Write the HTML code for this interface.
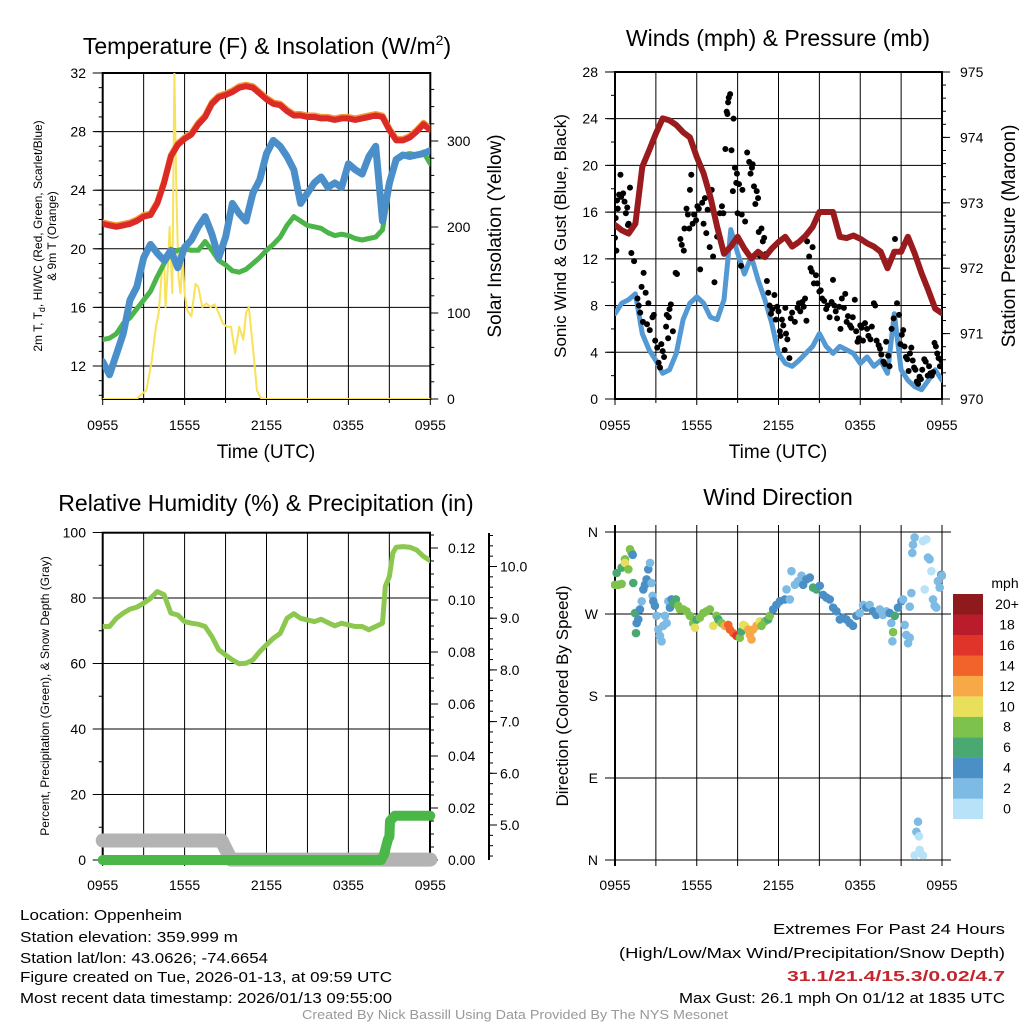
<!DOCTYPE html>
<html><head><meta charset="utf-8"><title>Mesonet Meteogram - Oppenheim</title>
<style>
html,body{margin:0;padding:0;background:#fff;}
svg{display:block;font-family:"Liberation Sans",sans-serif;}
</style></head>
<body>
<svg id="chart" width="1024" height="1024" viewBox="0 0 1024 1024" xmlns="http://www.w3.org/2000/svg">
<defs>
<clipPath id="c1"><rect x="102.7" y="73" width="327.6" height="326"/></clipPath>
<clipPath id="c2"><rect x="615" y="72" width="327" height="327"/></clipPath>
<clipPath id="c3"><rect x="102.7" y="532.7" width="327.3" height="327.3"/></clipPath>
<clipPath id="c4"><rect x="611" y="528" width="335" height="336"/></clipPath>
</defs>
<g id="g1"></g>
<g id="g2"></g>
<g id="g3"></g>
<g id="g4"></g>

<text x="267" y="54" font-size="23" text-anchor="middle">Temperature (F) &amp; Insolation (W/m<tspan font-size="14" dy="-9">2</tspan><tspan dy="9">)</tspan></text>
<text x="778" y="46" font-size="23" text-anchor="middle">Winds (mph) &amp; Pressure (mb)</text>
<text x="266" y="511" font-size="23" text-anchor="middle">Relative Humidity (%) &amp; Precipitation (in)</text>
<text x="778" y="505" font-size="23" text-anchor="middle">Wind Direction</text>

<text x="266" y="458" font-size="19" text-anchor="middle">Time (UTC)</text>
<text x="778" y="458" font-size="19" text-anchor="middle">Time (UTC)</text>

<text transform="translate(42,236) rotate(-90)" font-size="12" text-anchor="middle">2m T, T<tspan font-size="9" dy="3">d</tspan><tspan dy="-3">, HI/WC (Red, Green, Scarlet/Blue)</tspan></text>
<text transform="translate(56,236) rotate(-90)" font-size="12" text-anchor="middle">&amp; 9m T (Orange)</text>
<text transform="translate(501,236) rotate(-90)" font-size="19" text-anchor="middle">Solar Insolation (Yellow)</text>
<text transform="translate(566,236) rotate(-90)" font-size="17" text-anchor="middle">Sonic Wind &amp; Gust (Blue, Black)</text>
<text transform="translate(1015,236) rotate(-90)" font-size="19" text-anchor="middle">Station Pressure (Maroon)</text>
<text transform="translate(49,696) rotate(-90)" font-size="12" text-anchor="middle">Percent, Precipitation (Green), &amp; Snow Depth (Gray)</text>
<text transform="translate(568,696) rotate(-90)" font-size="17" text-anchor="middle">Direction (Colored By Speed)</text>

<g font-size="15">
<text x="20" y="920" textLength="162" lengthAdjust="spacingAndGlyphs">Location: Oppenheim</text>
<text x="20" y="942" textLength="218" lengthAdjust="spacingAndGlyphs">Station elevation: 359.999 m</text>
<text x="20" y="963" textLength="248" lengthAdjust="spacingAndGlyphs">Station lat/lon: 43.0626; -74.6654</text>
<text x="20" y="982" textLength="372" lengthAdjust="spacingAndGlyphs">Figure created on Tue, 2026-01-13, at 09:59 UTC</text>
<text x="20" y="1003" textLength="372" lengthAdjust="spacingAndGlyphs">Most recent data timestamp: 2026/01/13 09:55:00</text>
</g>
<g font-size="15" text-anchor="end">
<text x="1005" y="934" textLength="232" lengthAdjust="spacingAndGlyphs">Extremes For Past 24 Hours</text>
<text x="1005" y="958" textLength="386" lengthAdjust="spacingAndGlyphs">(High/Low/Max Wind/Precipitation/Snow Depth)</text>
<text x="1005" y="981" fill="#c4262e" font-weight="bold" textLength="218" lengthAdjust="spacingAndGlyphs">31.1/21.4/15.3/0.02/4.7</text>
<text x="1005" y="1003" textLength="326" lengthAdjust="spacingAndGlyphs">Max Gust: 26.1 mph On 01/12 at 1835 UTC</text>
</g>
<text x="515" y="1019" font-size="13" fill="#999" text-anchor="middle" textLength="426" lengthAdjust="spacingAndGlyphs">Created By Nick Bassill Using Data Provided By The NYS Mesonet</text>
</svg>
<script>
// ---------- DATA ----------
const timeLabels = ["0955","1555","2155","0355","0955"];
const halfHours = [0,0.5,1,1.5,2,2.5,3,3.5,4,4.5,5,5.5,6,6.5,7,7.5,8,8.5,9,9.5,10,10.5,11,11.5,12,12.5,13,13.5,14,14.5,15,15.5,16,16.5,17,17.5,18,18.5,19,19.5,20,20.5,21,21.5,22,22.5,23,23.5,24];
const tempF = [21.7,21.6,21.5,21.6,21.7,21.9,22.2,22.3,23.1,24.5,26.3,27.1,27.5,27.8,28.5,29.0,29.9,30.35,30.5,30.7,31.0,31.1,31.0,30.6,30.2,29.9,29.8,29.4,29.1,29.1,29.0,29.0,28.9,28.9,28.8,28.9,28.9,28.8,28.9,29.0,29.1,29.0,28.1,27.4,27.4,27.6,28.0,28.5,28.1];
const dewF = [13.8,13.9,14.2,14.9,15.3,15.9,16.5,17.1,18.1,19.0,19.7,19.9,20.0,19.9,19.9,20.5,19.9,19.2,18.9,18.5,18.4,18.6,19.0,19.4,19.9,20.3,20.8,21.6,22.2,21.9,21.6,21.5,21.4,21.1,20.9,21.0,20.9,20.7,20.6,20.7,20.8,21.3,24.2,26.1,26.4,26.5,26.4,26.6,25.8];
const windChillF = [12.3,11.4,12.8,14.2,16.5,17.4,19.4,20.3,19.7,19.2,19.9,18.7,20.1,20.6,21.5,22.2,21.0,19.4,20.8,23.1,22.4,21.9,23.8,24.7,26.5,27.4,27.0,26.3,25.4,23.1,23.8,24.5,24.9,24.2,24.5,24.2,25.8,25.4,25.1,26.3,27.0,21.9,24.5,26.1,26.4,26.3,26.4,26.5,26.7];
const insolTimes = [0,2.5,2.8,3.2,3.6,3.9,4.1,4.3,4.5,4.6,4.8,4.9,5.1,5.25,5.4,5.55,5.7,5.85,6,6.2,6.5,6.8,7.0,7.3,7.6,7.9,8.2,8.5,8.8,9.1,9.4,9.7,10,10.3,10.5,10.7,10.9,11.1,11.3,11.6,12,24];
const insolW = [0,0,5,10,45,84,100,142,165,107,160,200,123,379,239,142,123,165,123,103,96,134,130,107,111,107,110,100,88,84,84,53,84,69,100,107,76,45,10,1,0,0];
const pressureMb = [972.66,972.58,972.53,972.68,973.55,973.80,974.06,974.29,974.26,974.19,974.08,974.0,973.7,973.45,973.09,972.63,972.22,972.33,972.48,972.3,972.15,972.25,972.17,972.3,972.4,972.48,972.33,972.4,972.5,972.63,972.86,972.86,972.86,972.48,972.46,972.5,972.45,972.38,972.33,972.25,972.0,972.25,972.25,972.48,972.22,971.92,971.66,971.38,971.31];
const windMph = [7.3,8.2,8.5,9.0,5.6,4.2,3.3,2.2,2.5,3.9,6.8,8.2,8.75,8.2,7.0,6.8,8.5,14.5,12.5,10.7,12.2,10.2,8.5,6.5,3.9,3.05,2.8,3.3,3.9,4.5,5.6,4.5,3.9,4.5,4.2,3.9,3.05,3.6,2.8,3.3,2.2,7.3,2.5,1.6,1.05,0.8,1.6,2.5,1.6];
const gustTimes = [0,0.05,0.1,0.15,0.2,0.3,0.4,0.45,0.6,0.7,0.8,0.9,0.95,1.0,1.1,1.2,1.4,1.65,1.75,1.85,1.95,2.05,2.1,2.25,2.35,2.45,2.55,2.75,2.85,2.95,3.1,3.2,3.3,3.4,3.5,3.6,3.75,3.8,3.9,3.95,4.0,4.1,4.25,4.45,4.55,4.8,4.9,5.05,5.1,5.25,5.35,5.45,5.5,5.6,5.7,5.8,5.95,6.05,6.15,6.25,6.4,6.5,6.6,6.7,6.8,6.95,7.1,7.2,7.3,7.5,7.7,7.85,7.95,8.1,8.2,8.25,8.3,8.35,8.45,8.55,8.65,8.7,8.8,8.9,8.95,9.0,9.1,9.25,9.3,9.35,9.55,9.7,9.85,9.95,10.05,10.1,10.2,10.3,10.4,10.5,10.55,10.6,10.75,10.85,10.95,11.05,11.15,11.25,11.35,11.45,11.55,11.7,11.8,11.9,12.0,12.1,12.15,12.25,12.35,12.45,12.5,12.55,12.65,12.8,12.9,13.0,13.2,13.4,13.5,13.6,13.75,13.85,13.95,14.05,14.1,14.25,14.35,14.45,14.5,14.6,14.75,14.85,15.0,15.1,15.2,15.35,15.5,15.6,15.75,15.9,16.0,16.1,16.2,16.3,16.45,16.55,16.65,16.8,16.9,17.0,17.1,17.25,17.35,17.45,17.6,17.7,17.8,17.9,18.0,18.1,18.2,18.35,18.5,18.6,18.75,18.85,19.0,19.1,19.2,19.35,19.45,19.55,19.7,19.8,19.9,20.05,20.15,20.3,20.45,20.55,20.7,20.85,20.95,21.05,21.15,21.25,21.35,21.45,21.55,21.65,21.75,21.85,21.95,22.05,22.15,22.25,22.35,22.45,22.55,22.7,22.8,22.95,23.05,23.15,23.25,23.35,23.45,23.55,23.65,23.75,23.85,23.95];
const gustMph = [13.8,15.5,12.7,17,16.3,17.5,19.2,17.3,17.6,16.9,15.9,16.4,14.9,15,18.1,12.5,11.8,8.6,8,7.4,9.6,6.6,10.8,9.1,6.4,8.2,5.9,7,7.2,5,4.4,3.1,2.7,4.7,4.1,3.6,6.2,7.2,5.2,7,7.7,8.1,5.8,10.8,10.7,13.7,13.2,12.7,14.6,16.3,15.8,14.6,17.9,19.2,15.0,15.8,15.3,16.5,16.3,11.1,16.8,15.0,17.2,14.2,16.2,13.0,17.9,12.2,10.0,13.9,15.9,16.5,15.9,21.4,24.6,24.4,25.4,25.8,26.1,21.3,17.8,24.0,19.8,18.5,19.3,15.9,18.4,11.4,15.8,17.9,15.2,21.1,20.3,19.3,19.8,20.1,18.2,16.7,17.8,17.2,14.3,12.3,14.6,13.5,13.8,12.4,10.1,9.1,8.0,7.3,7.7,8.9,6.8,7.9,7.5,5.8,5.4,6.8,6.3,4.2,7.8,5.6,5.1,3.5,6.9,7.4,6.6,7.8,8.2,7.5,8.3,7.9,8.6,6.7,13.5,12.2,11.2,10.9,13.0,9.9,10.6,9.9,9.2,9.3,8.6,8.4,7.7,8.0,7.0,8.3,10.2,8.0,7.5,6.9,7.9,6.0,8.6,7.8,9.0,6.6,7.1,6.3,6.1,7.0,8.5,5.8,4.9,5.2,6.3,6.1,5.0,6.5,6.0,5.4,5.1,6.2,8.2,8.0,5.0,4.6,4.3,3.8,3.2,3.0,4.9,3.7,2.8,6.0,6.9,13.7,8.2,7.2,4.7,5.5,5.9,4.5,3.6,3.4,2.4,3.9,4.4,3.3,2.7,2.5,1.5,1.3,1.9,1.7,2.5,3.4,3.2,2.0,2.8,2.2,2.0,2.3,4.8,4.5,3.9,3.5,2.8,3.3];
const rhTimes = [0,0.5,1,1.5,2,2.5,3,3.5,4,4.5,5,5.5,6,6.5,7,7.5,8,8.5,9,9.5,10,10.5,11,11.5,12,12.5,13,13.5,14,14.5,15,15.5,16,16.5,17,17.5,18,18.5,19,19.5,20,20.5,20.7,21,21.25,21.5,22,22.5,23,23.5,24];
const rhPct = [71.3,71.3,73.8,75.4,76.6,77.2,78.4,79.9,82.0,81.0,75.4,74.8,72.8,72.3,72.0,71.3,68.2,64.2,62.6,61.1,59.9,60.1,61.1,63.6,65.7,67.7,69.2,73.8,75.2,73.8,73.3,72.8,73.5,72.5,71.5,72.3,71.8,71.3,71.3,70.3,71.3,72.3,83.5,86.6,93.7,95.5,95.7,95.5,94.7,92.7,91.4];
const precipTimes = [0,20.4,20.6,20.9,21.0,21.05,21.4,24];
const precipIn = [0,0,0.002,0.008,0.009,0.015,0.017,0.017];
const snowTimes = [0,8.7,9.4,24];
const snowIn = [4.7,4.7,4.33,4.33];
const dirTimes = [0,0.24,0.49,0.12,0.49,0.73,0.73,0.98,1.10,1.22,1.30,1.34,1.47,1.59,1.71,1.54,1.83,1.96,2.08,2.20,2.32,2.44,2.57,2.69,2.76,2.81,2.93,3.05,3.18,3.30,3.42,3.54,3.67,3.79,3.91,4.03,4.15,4.28,4.47,4.64,4.77,5.01,5.25,5.50,5.74,5.87,5.99,6.23,6.48,6.72,6.96,7.21,7.45,7.58,7.82,8.06,8.31,8.43,8.68,8.92,9.16,9.29,9.41,9.53,9.78,9.90,10.02,10.14,10.39,10.63,10.75,11.00,11.24,11.36,11.61,11.85,12.10,12.46,12.83,12.59,12.95,13.20,13.44,13.69,13.81,14.05,14.30,14.54,14.78,15.03,15.27,15.52,15.76,16.01,16.25,16.50,16.74,16.98,17.23,17.47,17.72,17.96,18.21,18.45,18.69,18.94,19.18,19.43,19.67,19.92,20.16,20.28,20.41,20.36,20.53,20.77,21.02,21.14,21.26,21.38,21.51,21.63,21.63,21.75,21.82,21.87,21.99,22.60,22.85,22.73,22.97,23.09,23.22,23.34,23.46,23.58,23.70,23.83,23.95,24.0,22.24,22.12,22.31,21.99,22.36,22.60];
const dirDeg = [302,302,303,315,321,330,326,319,341,337,335,304,271,260,264,249,275,284,297,302,308,319,326,304,290,284,279,268,253,246,240,257,268,260,284,277,286,282,286,279,275,275,273,268,260,255,264,266,271,273,275,257,268,264,260,257,258,253,249,246,244,251,258,257,253,247,242,253,257,262,257,262,264,268,275,280,284,286,286,297,317,302,306,312,302,308,310,299,297,301,291,288,286,277,273,264,266,264,260,257,268,271,280,277,280,273,269,275,269,273,271,260,250,240,268,277,284,286,258,247,238,244,278,293,337,346,354,350,352,297,332,330,317,286,279,277,306,299,313,312,42,31,26,5,11,5];
const dirSpeed = [8,8,8,6,6,8,10,8,8,8,4,6,6,4,4,6,4,2,4,4,4,4,2,2,2,4,4,2,2,2,2,2,2,2,2,4,4,6,6,8,8,8,8,8,8,10,6,8,8,8,8,10,8,6,8,12,14,14,14,16,8,6,10,10,12,12,12,12,12,10,8,8,6,8,4,4,4,4,2,2,2,2,2,2,4,4,4,6,6,4,4,4,4,4,4,4,4,4,4,4,4,2,2,4,2,4,4,2,2,2,4,2,8,2,6,4,4,2,2,2,2,2,2,2,2,2,2,0,0,0,2,2,0,2,2,2,2,2,4,2,2,2,0,0,0,0];
const speedLabels = ["0","2","4","6","8","10","12","14","16","18","20+"];
const speedColors = ["#b8e2f7","#7dbbe5","#4a8fc5","#4aa873","#7dc24d","#e8e05a","#f8a947","#f2622b","#e0342a","#bb1c2b","#8e1a1e"];
const tempTicks = [12,16,20,24,28,32];
const insolTicks = [0,100,200,300];
const windTicks = [0,4,8,12,16,20,24,28];
const pressTicks = [970,971,972,973,974,975];
const rhTicks = [0,20,40,60,80,100];
const precipTicks = [0,0.02,0.04,0.06,0.08,0.10,0.12];
const snowTicks = [5,6,7,8,9,10];
const dirTicks = [0,90,180,270,360];
const dirLabels = ["N","E","S","W","N"];

// ---------- SCALES ----------
const X1 = t => 102.7 + t * 13.65;
const X2 = t => 615 + t * 13.625;
const yT = v => 73 + (32 - v) * 14.65;
const yI = v => 399 - v * 0.86;
const yW = v => 399 - v * 11.68;
const yP = v => 399 - (v - 970) * 65.4;
const yRH = v => 860 - v * 3.275;
const yPr = v => 860 - v * 2600;
const ySn = v => 825 - (v - 5) * 51.7;
const yD = v => 532 + (360 - v) * 0.9111;

const NS = "http://www.w3.org/2000/svg";
function mk(tag, attrs, parent) {
  const e = document.createElementNS(NS, tag);
  for (const k in attrs) e.setAttribute(k, attrs[k]);
  parent.appendChild(e);
  return e;
}
function pathD(ts, vs, xf, yf) {
  return ts.map((t, i) => (i ? "L" : "M") + xf(t).toFixed(1) + "," + yf(vs[i]).toFixed(1)).join("");
}
function frame(g, x0, x1, y0, y1, xf, yTicksVals, yf) {
  for (let h = 0; h <= 24; h += 3) {
    const l = mk("line", {x1: xf(h), x2: xf(h), y1: y0, y2: y1 + (h % 6 === 0 ? 6 : 4), stroke: "#000", "stroke-width": 1}, g);
    
    
  }
  yTicksVals.forEach(v => {
    const l = mk("line", {x1: x0 - 10, x2: x1, y1: yf(v), y2: yf(v), stroke: "#000", "stroke-width": 1}, g);
    
    
  });
  const r = mk("rect", {x: x0, y: y0, width: x1 - x0, height: y1 - y0, fill: "none", stroke: "#000", "stroke-width": 2}, g);
  
  
}
function xLabels(g, xf, y) {
  timeLabels.forEach((s, i) => {
    const t = mk("text", {x: xf(i * 6), y: y, "font-size": 14, "text-anchor": "middle"}, g);
    
    
    t.textContent = s;
  });
}
function yAxis(g, x, side, ticks, yf, fmt, minorStep, lo, hi, lx) {
  const dir = side === "left" ? -1 : 1;
  ticks.forEach(v => {
    const l = mk("line", {x1: x, x2: x + dir * 8, y1: yf(v), y2: yf(v), stroke: "#000", "stroke-width": 1}, g);
    
    
    const t = mk("text", {x: lx, y: yf(v) + 5, "font-size": 14, "text-anchor": side === "left" ? "end" : "start"}, g);
    
    
    t.textContent = fmt(v);
  });
  for (let v = lo; v <= hi + 1e-9; v += minorStep) {
    const m = mk("line", {x1: x, x2: x + dir * 4, y1: yf(v), y2: yf(v), stroke: "#000", "stroke-width": 1}, g);
    
    
  }
}
function line(g, ts, vs, xf, yf, color, w, clip, name) {
  const p = mk("path", {d: pathD(ts, vs, xf, yf), fill: "none", stroke: color, "stroke-width": w, "stroke-linejoin": "round", "stroke-linecap": "round", "clip-path": clip}, g);
  
  
  return p;
}

// ---------- PANEL 1 ----------
const g1 = document.getElementById("g1");
frame(g1, 102.7, 430.3, 73, 399, X1, tempTicks, yT);
yAxis(g1, 102.7, "left", tempTicks, yT, v => v, 1, 10, 32, 86);
yAxis(g1, 430.3, "right", insolTicks, yI, v => v, 20, 0, 379, 447);
xLabels(g1, X1, 430);
line(g1, insolTimes, insolW, X1, yI, "#f7e25a", 2, "url(#c1)", "insolation-line");
line(g1, halfHours, dewF, X1, yT, "#4cb549", 5, "url(#c1)", "dewpoint-line");
line(g1, halfHours, tempF, X1, v => yT(v) - 1.5, "#f39a3c", 6, "url(#c1)", "temperature-9m-line");
line(g1, halfHours, tempF, X1, yT, "#dc2a26", 6, "url(#c1)", "temperature-2m-line");
line(g1, halfHours, windChillF, X1, yT, "#4a8fc9", 7, "url(#c1)", "wind-chill-line");

// ---------- PANEL 2 ----------
const g2 = document.getElementById("g2");
frame(g2, 615, 942, 72, 399, X2, windTicks, yW);
yAxis(g2, 615, "left", windTicks, yW, v => v, 2, 0, 28, 598);
yAxis(g2, 942, "right", pressTicks, yP, v => v, 0.2, 970, 975, 960);
xLabels(g2, X2, 430);
line(g2, halfHours, windMph, X2, yW, "#5399d4", 5, "url(#c2)", "sonic-wind-line");
gustTimes.forEach((t, i) => {
  const c = mk("circle", {cx: X2(t), cy: yW(gustMph[i]), r: 3, fill: "#000", "clip-path": "url(#c2)"}, g2);
  
  
});
line(g2, halfHours, pressureMb, X2, yP, "#9a1b1e", 6, "url(#c2)", "pressure-line");

// ---------- PANEL 3 ----------
const g3 = document.getElementById("g3");
frame(g3, 102.7, 430, 532.7, 860, X1, rhTicks, yRH);
yAxis(g3, 102.7, "left", rhTicks, yRH, v => v, 10, 0, 100, 86);
yAxis(g3, 430, "right", precipTicks, yPr, v => v.toFixed(2), 0.005, 0, 0.125, 448);
yAxis(g3, 489, "right", snowTicks, ySn, v => v.toFixed(1), 0.2, 4.4, 10.6, 500);
const sp = mk("line", {x1: 489, x2: 489, y1: 533, y2: 860, stroke: "#000", "stroke-width": 2}, g3);


xLabels(g3, X1, 890);
line(g3, snowTimes, snowIn, X1, ySn, "#b3b3b3", 14, "", "snow-depth-line");
line(g3, precipTimes, precipIn, X1, yPr, "#4bb749", 10, "", "precipitation-line");
line(g3, rhTimes, rhPct, X1, yRH, "#8cc850", 5, "url(#c3)", "relative-humidity-line");

// ---------- PANEL 4 ----------
const g4 = document.getElementById("g4");
for (let h = 0; h <= 24; h += 3) {
  const l = mk("line", {x1: X2(h), x2: X2(h), y1: 525, y2: 866, stroke: "#000", "stroke-width": 1}, g4);
  
  
}
dirTicks.forEach((v, i) => {
  const l = mk("line", {x1: 605, x2: 951, y1: yD(v), y2: yD(v), stroke: "#000", "stroke-width": 1}, g4);
  
  
  const t = mk("text", {x: 598, y: yD(v) + 5, "font-size": 14, "text-anchor": "end"}, g4);
  
  
  t.textContent = dirLabels[i];
});
const ax4 = mk("line", {x1: 615, x2: 615, y1: 525, y2: 866, stroke: "#000", "stroke-width": 2}, g4);


xLabels(g4, X2, 890);
dirTimes.forEach((t, i) => {
  const c = mk("circle", {cx: X2(t), cy: yD(dirDeg[i]), r: 4.3, fill: speedColors[dirSpeed[i] / 2], "clip-path": "url(#c4)"}, g4);
  
  
});
// colorbar
const mphT = mk("text", {x: 1005, y: 588, "font-size": 14, "text-anchor": "middle"}, g4);


mphT.textContent = "mph";
speedLabels.forEach((s, i) => {
  const k = speedLabels.length - 1 - i;
  const y = 594 + k * 20.45;
  const r = mk("rect", {x: 953, y: y, width: 30, height: 20.6, fill: speedColors[i]}, g4);
  
  
  const t = mk("text", {x: 1007, y: y + 15, "font-size": 14, "text-anchor": "middle"}, g4);
  
  
  t.textContent = s;
});
</script>
</body></html>
